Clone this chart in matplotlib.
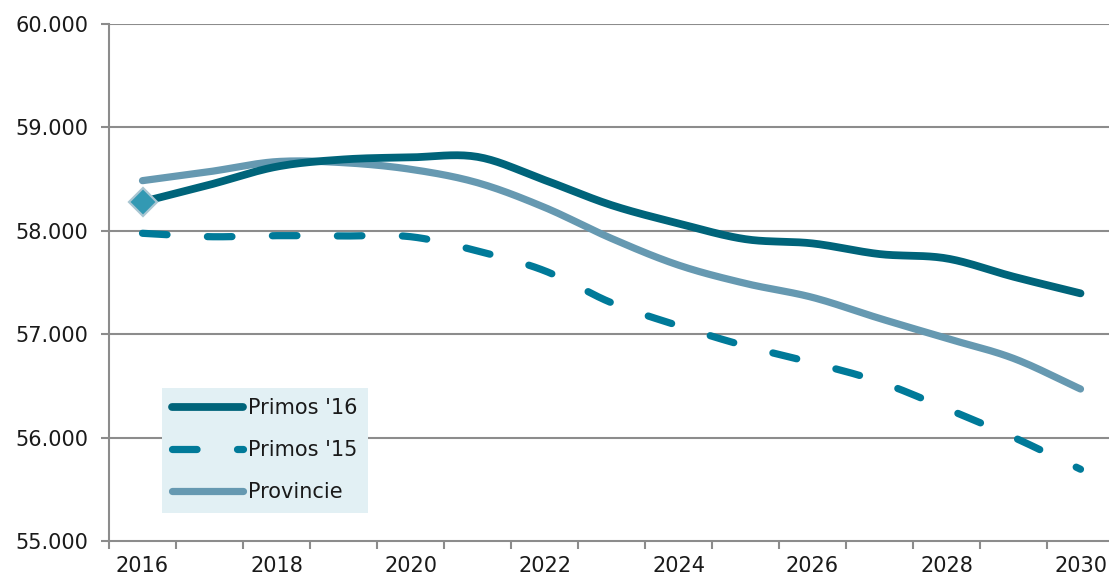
import numpy as np
import matplotlib
matplotlib.use("Agg")
import matplotlib.pyplot as plt
from matplotlib.ticker import FuncFormatter

years = list(range(2016, 2031))
primos16 = [58280, 58445, 58620, 58690, 58710, 58715, 58491, 58248, 58071,
            57919, 57878, 57775, 57733, 57556, 57395]
primos15 = [57976, 57943, 57953, 57950, 57943, 57805, 57614, 57304, 57082,
            56886, 56725, 56540, 56280, 56003, 55694]
provincie = [58485, 58572, 58669, 58659, 58595, 58465, 58227, 57926, 57668,
             57491, 57356, 57153, 56960, 56766, 56470]

c16 = '#00647A'
c15 = '#007A99'
cprov = '#6699B1'
grid_c = '#8C8C8C'
fs = 15


def smooth(y, n=20):
    # catmull-rom through the points, like excel's smoothed line
    y = np.asarray(y, float)
    x = np.arange(len(y), dtype=float)
    p = np.concatenate([[2*y[0]-y[1]], y, [2*y[-1]-y[-2]]])
    xs, ys = [], []
    for i in range(len(y)-1):
        p0, p1, p2, p3 = p[i], p[i+1], p[i+2], p[i+3]
        t = np.linspace(0, 1, n, endpoint=False)
        v = 0.5*((2*p1) + (-p0+p2)*t + (2*p0-5*p1+4*p2-p3)*t**2 + (-p0+3*p1-3*p2+p3)*t**3)
        xs.extend(x[i]+t)
        ys.extend(v)
    xs.append(x[-1])
    ys.append(y[-1])
    return np.array(xs), np.array(ys)


W, H = 1109, 578
fig = plt.figure(figsize=(W/100, H/100), dpi=100)
ax = fig.add_axes([109/W, (H-541)/H, 1005/W, (541-24)/H])
ax.set_xlim(-0.5, 14.5)
ax.set_ylim(55000, 60000)

for v in range(56000, 60001, 1000):
    ax.axhline(v, color=grid_c, lw=1.5, zorder=1)

xs, ys = smooth(primos15)
ax.plot(xs, ys, color=c15, lw=5.2, dashes=(3.4, 5.6), dash_capstyle='round',
        solid_capstyle='round', zorder=3, label="Primos '15")
xs, ys = smooth(provincie)
ax.plot(xs, ys, color=cprov, lw=5.2, solid_capstyle='round', zorder=3, label='Provincie')
xs, ys = smooth(primos16)
ax.plot(xs, ys, color=c16, lw=5.6, solid_capstyle='round', zorder=4, label="Primos '16")
ax.plot([0], [primos16[0]], marker='D', ms=14, mfc='#3399B3', mec='#A9C6D2',
        mew=1.6, zorder=5, clip_on=False)

for s in ['top', 'right']:
    ax.spines[s].set_visible(False)
for s in ['left', 'bottom']:
    ax.spines[s].set_color(grid_c)
    ax.spines[s].set_linewidth(1.5)
    ax.spines[s].set_zorder(2)

ax.set_yticks(range(55000, 60001, 1000))
ax.yaxis.set_major_formatter(FuncFormatter(lambda v, p: f"{int(v):,}".replace(',', '.')))
ax.tick_params(axis='y', length=6, width=1.5, color=grid_c, pad=9,
               labelsize=fs, labelcolor='#1a1a1a')

ax.set_xticks(np.arange(-0.5, 15, 1))
ax.set_xticklabels([])
ax.tick_params(axis='x', which='major', length=6, width=1.5, color=grid_c)
ax.set_xticks(np.arange(0, 15, 2), minor=True)
ax.set_xticklabels([str(years[i]) for i in range(0, 15, 2)], minor=True)
ax.tick_params(axis='x', which='minor', length=0, pad=11, labelsize=fs,
               labelcolor='#1a1a1a')

h, l = ax.get_legend_handles_labels()
order = [2, 0, 1]
leg = ax.legend([h[i] for i in order], [l[i] for i in order],
                loc='upper left', bbox_to_anchor=(162/W, (H-388)/H),
                bbox_transform=fig.transFigure, fontsize=fs,
                handlelength=3.4, handletextpad=0.25, labelspacing=1.05,
                borderpad=0.5, borderaxespad=0, fancybox=False,
                facecolor='#E2F0F4', edgecolor='none', framealpha=1)
leg.set_zorder(6)
for t in leg.get_texts():
    t.set_color('#1a1a1a')

fig.savefig('out.png', dpi=100)
